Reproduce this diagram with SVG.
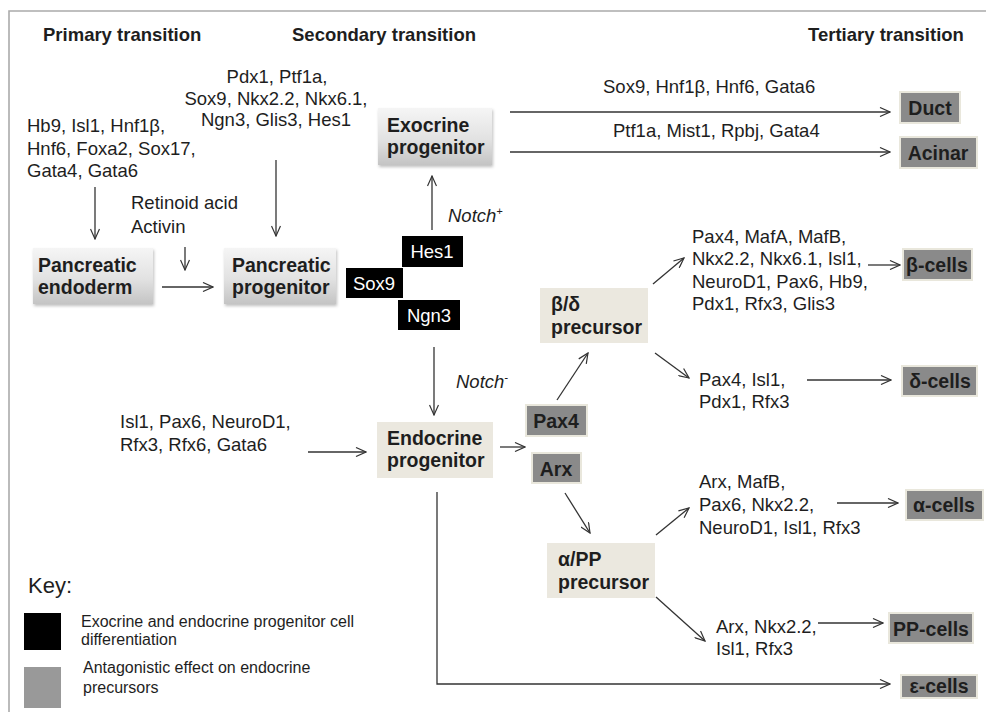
<svg xmlns="http://www.w3.org/2000/svg" width="986" height="712" viewBox="0 0 986 712">
<defs>
<linearGradient id="gbox" x1="0" y1="0" x2="0" y2="1">
<stop offset="0" stop-color="#f5f5f5"/>
<stop offset="0.55" stop-color="#e2e2e2"/>
<stop offset="1" stop-color="#c4c4c4"/>
</linearGradient>
<filter id="sh" x="-10%" y="-10%" width="125%" height="130%">
<feDropShadow dx="1" dy="2" stdDeviation="1.5" flood-color="#000" flood-opacity="0.25"/>
</filter>
<marker id="ah" viewBox="0 0 12 10" refX="11" refY="5" markerWidth="12" markerHeight="10" markerUnits="userSpaceOnUse" orient="auto">
<path d="M1,0.5 L11,5 L1,9.5" fill="none" stroke="#333" stroke-width="1.2"/>
</marker>
<style>
text{font-family:"Liberation Sans",Arial,sans-serif;fill:#1e1e1e}
.hd{font-size:18.5px;font-weight:bold}
.t{font-size:18.5px}
.b{font-size:19.5px;font-weight:bold}
.w{font-size:18.5px;fill:#fff}
.it{font-size:18.5px;font-style:italic}
.k{font-size:16px}
.m{text-anchor:middle}
.gb{fill:url(#gbox);filter:url(#sh)}
.bg{fill:#ebe8df}
.dk{fill:#8a8a8a;stroke:#e9e7dc;stroke-width:2}
.bk{fill:#000}
.c line,.c path{stroke:#333;stroke-width:1.3;fill:none;marker-end:url(#ah)}
</style>
</defs>
<rect x="0" y="0" width="986" height="712" fill="#fff"/>
<path d="M9,712 L9,11 L986,11" fill="none" stroke="#ababab" stroke-width="1.6"/>

<text class="hd" x="43" y="41">Primary transition</text>
<text class="hd" x="292" y="41">Secondary transition</text>
<text class="hd" x="808" y="41">Tertiary transition</text>

<g id="lbl-primary">
<text class="t" x="27" y="132">Hb9, Isl1, Hnf1β,</text>
<text class="t" x="27" y="155">Hnf6, Foxa2, Sox17,</text>
<text class="t" x="27" y="177">Gata4, Gata6</text>
</g>
<g id="lbl-ra">
<text class="t" x="131" y="209">Retinoid acid</text>
<text class="t" x="131" y="233">Activin</text>
</g>
<g id="lbl-secondary">
<text class="t m" x="277" y="83">Pdx1, Ptf1a,</text>
<text class="t m" x="276" y="105">Sox9, Nkx2.2, Nkx6.1,</text>
<text class="t m" x="276" y="126">Ngn3, Glis3, Hes1</text>
</g>

<g id="pancreatic-endoderm">
<rect class="gb" x="33" y="248" width="120" height="56"/>
<text class="b" x="38" y="272">Pancreatic</text>
<text class="b" x="38" y="294">endoderm</text>
</g>
<g id="pancreatic-progenitor">
<rect class="gb" x="224" y="248" width="112" height="56"/>
<text class="b" x="232" y="272">Pancreatic</text>
<text class="b" x="232" y="294">progenitor</text>
</g>
<g id="exocrine-progenitor">
<rect class="gb" x="378" y="108" width="114" height="57"/>
<text class="b" x="387" y="132">Exocrine</text>
<text class="b" x="387" y="154">progenitor</text>
</g>

<g id="hes1">
<rect class="bk" x="402" y="236" width="61" height="31"/>
<text class="w m" x="432" y="258">Hes1</text>
</g>
<g id="sox9">
<rect class="bk" x="346" y="268" width="57" height="30"/>
<text class="w m" x="374" y="290">Sox9</text>
</g>
<g id="ngn3">
<rect class="bk" x="398" y="300" width="62" height="30"/>
<text class="w m" x="429" y="322">Ngn3</text>
</g>

<text class="it" x="448" y="222">Notch<tspan font-size="11" dy="-7">+</tspan></text>
<text class="it" x="456" y="388">Notch<tspan font-size="11" dy="-7">-</tspan></text>

<g id="lbl-duct">
<text class="t" x="603" y="93">Sox9, Hnf1β, Hnf6, Gata6</text>
</g>
<g id="lbl-acinar">
<text class="t" x="613" y="137">Ptf1a, Mist1, Rpbj, Gata4</text>
</g>
<g id="duct">
<rect class="dk" x="900" y="92" width="60" height="31"/>
<text class="b m" x="930" y="115">Duct</text>
</g>
<g id="acinar">
<rect class="dk" x="900" y="137" width="77" height="31"/>
<text class="b m" x="938" y="160">Acinar</text>
</g>

<g id="lbl-endocrine">
<text class="t" x="120" y="428">Isl1, Pax6, NeuroD1,</text>
<text class="t" x="120" y="451">Rfx3, Rfx6, Gata6</text>
</g>
<g id="endocrine-progenitor">
<rect class="bg" x="377" y="422" width="116" height="56"/>
<text class="b" x="387" y="445">Endocrine</text>
<text class="b" x="387" y="467">progenitor</text>
</g>
<g id="pax4">
<rect class="dk" x="526" y="405" width="61" height="31"/>
<text class="b m" x="556" y="428">Pax4</text>
</g>
<g id="arx">
<rect class="dk" x="532" y="453" width="49" height="30"/>
<text class="b m" x="556" y="476">Arx</text>
</g>

<g id="bd-precursor">
<rect class="bg" x="540" y="288" width="108" height="55"/>
<text class="b" x="551" y="311">β/δ</text>
<text class="b" x="551" y="334">precursor</text>
</g>
<g id="apP-precursor">
<rect class="bg" x="547" y="543" width="108" height="55"/>
<text class="b" x="558" y="566">α/PP</text>
<text class="b" x="558" y="589">precursor</text>
</g>

<g id="lbl-beta">
<text class="t" x="692" y="243">Pax4, MafA, MafB,</text>
<text class="t" x="692" y="265">Nkx2.2, Nkx6.1, Isl1,</text>
<text class="t" x="692" y="288">NeuroD1, Pax6, Hb9,</text>
<text class="t" x="692" y="310">Pdx1, Rfx3, Glis3</text>
</g>
<g id="beta-cells">
<rect class="dk" x="903" y="249" width="69" height="31"/>
<text class="b m" x="937" y="272">β-cells</text>
</g>
<g id="lbl-delta">
<text class="t" x="699" y="386">Pax4, Isl1,</text>
<text class="t" x="699" y="408">Pdx1, Rfx3</text>
</g>
<g id="delta-cells">
<rect class="dk" x="902" y="366" width="75" height="30"/>
<text class="b m" x="940" y="388">δ-cells</text>
</g>
<g id="lbl-alpha">
<text class="t" x="699" y="488">Arx, MafB,</text>
<text class="t" x="699" y="511">Pax6, Nkx2.2,</text>
<text class="t" x="699" y="534">NeuroD1, Isl1, Rfx3</text>
</g>
<g id="alpha-cells">
<rect class="dk" x="906" y="490" width="77" height="30"/>
<text class="b m" x="944" y="512">α-cells</text>
</g>
<g id="lbl-pp">
<text class="t" x="716" y="633">Arx, Nkx2.2,</text>
<text class="t" x="716" y="655">Isl1, Rfx3</text>
</g>
<g id="pp-cells">
<rect class="dk" x="889" y="613" width="84" height="30"/>
<text class="b m" x="931" y="636">PP-cells</text>
</g>
<g id="epsilon-cells">
<rect class="dk" x="901" y="675" width="76" height="23"/>
<text class="b m" x="939" y="693">ε-cells</text>
</g>

<g id="connectors" class="c">
<line x1="95" y1="187" x2="95" y2="239"/>
<line x1="185" y1="247" x2="185" y2="270"/>
<line x1="162" y1="287" x2="213" y2="287"/>
<line x1="276" y1="160" x2="276" y2="236"/>
<line x1="432" y1="230" x2="432" y2="176"/>
<line x1="434" y1="347" x2="434" y2="415"/>
<line x1="510" y1="112" x2="890" y2="112"/>
<line x1="510" y1="152" x2="890" y2="152"/>
<line x1="308" y1="452" x2="366" y2="452"/>
<line x1="500" y1="447" x2="525" y2="447"/>
<line x1="557" y1="400" x2="588" y2="353"/>
<line x1="565" y1="493" x2="590" y2="533"/>
<line x1="653" y1="284" x2="684" y2="258"/>
<line x1="868" y1="265" x2="900" y2="265"/>
<line x1="655" y1="353" x2="689" y2="378"/>
<line x1="807" y1="380" x2="891" y2="380"/>
<line x1="656" y1="535" x2="689" y2="508"/>
<line x1="837" y1="503" x2="898" y2="503"/>
<line x1="656" y1="597" x2="705" y2="641"/>
<line x1="818" y1="623" x2="883" y2="623"/>
<path d="M437,492 L437,684 L890,684"/>
</g>

<g id="key">
<text x="28" y="593" style="font-size:22px">Key:</text>
<rect x="24" y="613" width="37" height="37" fill="#000"/>
<text class="k" x="81" y="627">Exocrine and endocrine progenitor cell</text>
<text class="k" x="81" y="645">differentiation</text>
<rect x="24" y="667" width="37" height="41" fill="#999"/>
<text class="k" x="83" y="673">Antagonistic effect on endocrine</text>
<text class="k" x="83" y="693">precursors</text>
</g>
</svg>
